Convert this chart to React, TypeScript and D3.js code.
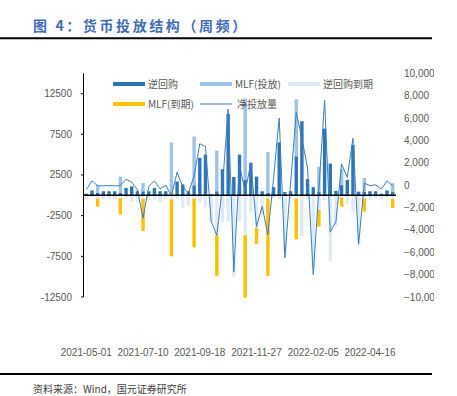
import * as d3 from "d3"

const W = 457
const H = 396

const dates = [
  "2021-05-01", "2021-05-08", "2021-05-15", "2021-05-22", "2021-05-29", "2021-06-05", "2021-06-12",
  "2021-06-19", "2021-06-26", "2021-07-03", "2021-07-10", "2021-07-17", "2021-07-24", "2021-07-31",
  "2021-08-07", "2021-08-14", "2021-08-21", "2021-08-28", "2021-09-04", "2021-09-11", "2021-09-18",
  "2021-09-25", "2021-10-02", "2021-10-09", "2021-10-16", "2021-10-23", "2021-10-30", "2021-11-06",
  "2021-11-13", "2021-11-20", "2021-11-27", "2021-12-04", "2021-12-11", "2021-12-18", "2021-12-25",
  "2022-01-01", "2022-01-08", "2022-01-15", "2022-01-22", "2022-01-29", "2022-02-05", "2022-02-12",
  "2022-02-19", "2022-02-26", "2022-03-05", "2022-03-12", "2022-03-19", "2022-03-26", "2022-04-02",
  "2022-04-09", "2022-04-16", "2022-04-23", "2022-04-30", "2022-05-07", "2022-05-14",
]

// 逆回购
const repo = [
  200, 600, 300, 500, 500, 500, 300, 900, 1100, 500, 500, 500, 900, 500, 500, 100, 1700, 1350, 500,
  1230, 4600, 5000, 150, 500, 3200, 10000, 2250, 5000, 1900, 4000, 2300, 500, 330, 1000, 6500, 400,
  500, 4800, 9100, 2000, 1000, 400, 8200, 3900, 550, 1250, 1900, 6200, 450, 450, 500, 500, 200, 600, 400,
]
// MLF(投放)
const mlfIn = [
  0, 0, 1000, 0, 0, 0, 2000, 0, 0, 0, 1000, 0, 0, 0, 0, 6400, 0, 0, 0, 6000, 0, 0, 0, 5000, 0, 0, 0,
  0, 10000, 0, 0, 0, 5000, 0, 0, 0, 0, 7000, 0, 0, 0, 3100, 0, 0, 0, 2000, 0, 0, 0, 1700, 0, 0, 0, 0, 1100,
]
// 逆回购到期
const repoDue = [
  500, 250, 400, 500, 500, 500, 350, 400, 850, 900, 400, 600, 500, 850, 500, 500, 500, 1500, 1200,
  400, 900, 1500, 3300, 4900, 3300, 3200, 10000, 3200, 4900, 2000, 4000, 2400, 400, 400, 500, 6900,
  400, 400, 5000, 500, 9000, 1800, 600, 8100, 3800, 300, 1100, 2000, 5800, 400, 550, 470, 550, 220, 450,
]
// MLF(到期)
const mlfDue = [
  0, 0, 1000, 0, 0, 0, 2000, 0, 0, 0, 4000, 0, 0, 0, 0, 7000, 0, 0, 0, 6000, 0, 0, 0, 5000, 0, 0, 0,
  0, 7700, 0, 2000, 0, 9500, 0, 0, 0, 0, 5000, 0, 0, 0, 2050, 0, 0, 0, 1100, 0, 0, 0, 1600, 0, 0, 0, 0, 1100,
]
// 净投放量 (right axis)
const net = [
  -400, 380, -60, -50, -50, -50, -50, 530, 270, -420, -2950, -120, 380, -330, 0, -960, 1160, -150, -700,
  830, 3700, 3450, -3200, -4500, -100, 6800, -7750, 1800, -600, 2000, -3700, -1900, -4450, 600, 6000,
  -6500, 100, 6500, 4200, 1500, -8000, -300, 7600, -4200, -3250, 1900, 700, 4200, -5300, 180, -40, 30,
  -350, 380, -60,
]

const leftTicks = [-12500, -7500, -2500, 2500, 7500, 12500]
const rightTicks = [-10000, -8000, -6000, -4000, -2000, 0, 2000, 4000, 6000, 8000, 10000]
const xTickLabels = ["2021-05-01", "2021-07-10", "2021-09-18", "2021-11-27", "2022-02-05", "2022-04-16"]

const C_REPO = "#2E75B6"
const C_MLF_IN = "#9DC3E6"
const C_REPO_DUE = "#DEEBF7"
const C_MLF_DUE = "#FFC000"
const C_LINE = "#3A7DC0"
const TXT = "#595959"
const FONT = "'Liberation Sans', Arial, sans-serif"
const CJK = "'Noto Sans CJK SC', sans-serif"

export default function App() {
  const top = 73.3
  const bottom = 297
  const x = d3.scaleBand<string>().domain(dates).range([83.5, 395.5])
  const yL = d3.scaleLinear().domain([-12500, 15000]).range([bottom, top])
  const yR = d3.scaleLinear().domain([-10000, 10000]).range([bottom, top])
  const bw = x.bandwidth() * 0.6
  const cx = (d: string) => (x(d) ?? 0) + x.bandwidth() / 2

  const line = d3
    .line<number>()
    .x((_, i) => cx(dates[i]))
    .y((v) => yR(v))

  const y0 = yL(0)

  const legend1 = [
    { label: "逆回购", color: C_REPO, x: 113 },
    { label: "MLF(投放)", color: C_MLF_IN, x: 200 },
    { label: "逆回购到期", color: C_REPO_DUE, x: 288 },
  ]

  return (
    <svg
      width={W}
      height={H}
      style={{ position: "absolute", left: 0, top: 0, background: "#fff" }}
    >
      <defs>
        <clipPath id="clipR">
          <rect x={0} y={0} width={434} height={H} />
        </clipPath>
      </defs>
      <text x={33} y={31} fontFamily={CJK} fontWeight="bold" fontSize={14} letterSpacing={2.6} fill="#3F6DB8">
        图 4：货币投放结构（周频）
      </text>
      <line x1={0} x2={432} y1={38.3} y2={38.3} stroke="#000" strokeWidth={2} />

      {/* negative stacks */}
      {dates.map((d, i) => (
        <g key={"n" + d}>
          <rect x={cx(d) - bw / 2} y={y0} width={bw} height={yL(-repoDue[i]) - y0} fill={C_REPO_DUE} />
          {mlfDue[i] > 0 && (
            <rect
              x={cx(d) - bw / 2}
              y={yL(-repoDue[i])}
              width={bw}
              height={yL(-repoDue[i] - mlfDue[i]) - yL(-repoDue[i])}
              fill={C_MLF_DUE}
            />
          )}
        </g>
      ))}
      {/* positive stacks */}
      {dates.map((d, i) => (
        <g key={"p" + d}>
          <rect x={cx(d) - bw / 2} y={yL(repo[i])} width={bw} height={y0 - yL(repo[i])} fill={C_REPO} />
          {mlfIn[i] > 0 && (
            <rect
              x={cx(d) - bw / 2}
              y={yL(repo[i] + mlfIn[i])}
              width={bw}
              height={yL(repo[i]) - yL(repo[i] + mlfIn[i])}
              fill={C_MLF_IN}
            />
          )}
        </g>
      ))}

      <path d={line(net) ?? ""} fill="none" stroke={C_LINE} strokeWidth={1} />

      {/* zero line */}
      <line x1={83.5} x2={396} y1={y0} y2={y0} stroke="#000" strokeWidth={1.5} />

      {/* left axis */}
      <line x1={83.5} x2={83.5} y1={top} y2={bottom} stroke="#000" strokeWidth={1} />
      {leftTicks.map((t) => (
        <g key={"l" + t}>
          <line x1={81} x2={83.5} y1={yL(t)} y2={yL(t)} stroke="#000" strokeWidth={1} />
          <text x={72} y={yL(t)} dy="0.35em" textAnchor="end" fontFamily={FONT} fontSize={10} fill={TXT}>
            {t}
          </text>
        </g>
      ))}

      {/* right axis labels */}
      <g clipPath="url(#clipR)">
        {rightTicks.map((t) => (
          <text key={"r" + t} x={404} y={yR(t)} dy="0.35em" fontFamily={FONT} fontSize={10} fill={TXT}>
            {d3.format(",")(t)}
          </text>
        ))}
      </g>

      {/* x labels */}
      {xTickLabels.map((t) => (
        <text key={t} x={cx(t)} y={352} dy="0.35em" textAnchor="middle" fontFamily={FONT} fontSize={10} fill={TXT}>
          {t}
        </text>
      ))}

      {/* legend */}
      {legend1.map((l) => (
        <g key={l.label}>
          <rect x={l.x} y={82} width={32} height={4} fill={l.color} />
          <text x={l.x + 35} y={84} dy="0.35em" fontFamily={CJK} fontSize={10} fill={TXT}>
            {l.label}
          </text>
        </g>
      ))}
      <rect x={113} y={102} width={32} height={4} fill={C_MLF_DUE} />
      <text x={148} y={104} dy="0.35em" fontFamily={CJK} fontSize={10} fill={TXT}>
        MLF(到期)
      </text>
      <line x1={200} x2={232} y1={104} y2={104} stroke={C_LINE} strokeWidth={1} />
      <text x={237} y={104} dy="0.35em" fontFamily={CJK} fontSize={10} fill={TXT}>
        净投放量
      </text>

      <line x1={0} x2={432} y1={374} y2={374} stroke="#000" strokeWidth={2} />
      <text x={33} y={389} dy="0.35em" fontFamily={CJK} fontSize={10} fill="#404040">
        资料来源：Wind，国元证券研究所
      </text>
    </svg>
  )
}
